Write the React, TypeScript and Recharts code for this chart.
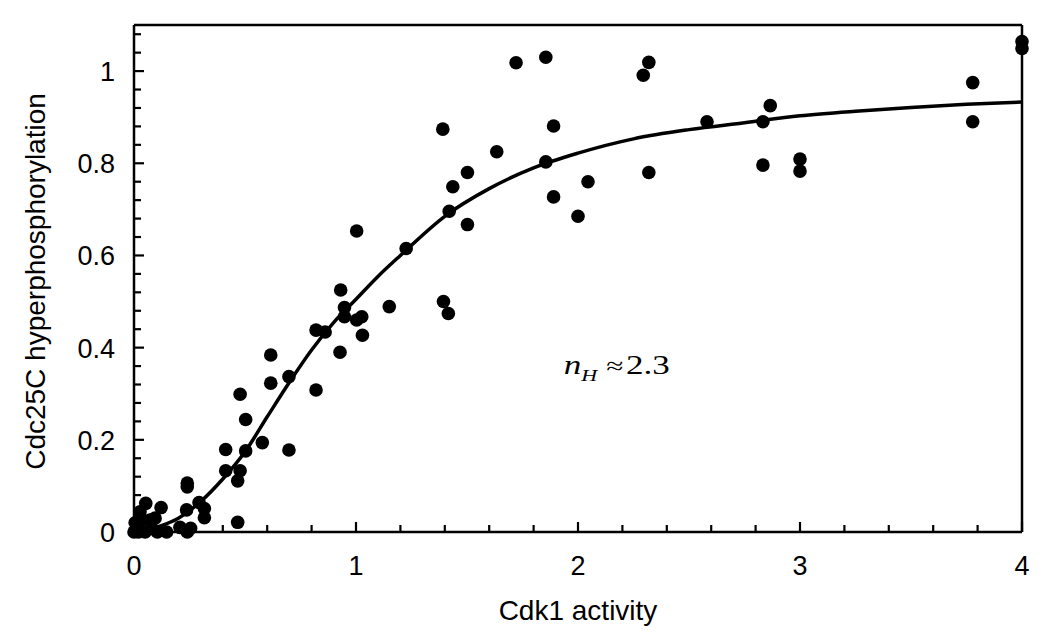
import { ComposedChart, Scatter, Line, XAxis, YAxis, ReferenceDot, ReferenceLine } from "recharts";

// measured points (Cdk1 activity vs Cdc25C hyperphosphorylation)
const activity = [
  0, 0.005, 0.012, 0.02, 0.027, 0.035, 0.05, 0.053, 0.072, 0.08, 0.095, 0.105, 0.122, 0.147,
  0.207, 0.237, 0.24, 0.24, 0.24, 0.255, 0.293, 0.317, 0.317,
  0.413, 0.413, 0.467, 0.467, 0.478, 0.478, 0.503, 0.503, 0.578, 0.616, 0.616, 0.698, 0.698,
  0.82, 0.82, 0.861, 0.928, 0.931, 0.948, 0.948, 1.003, 1.003, 1.026, 1.029, 1.15, 1.226,
  1.391, 1.394, 1.416, 1.42, 1.436, 1.502, 1.502, 1.634, 1.721, 1.855, 1.855, 1.89, 1.89,
  2.0, 2.045, 2.294, 2.319, 2.319, 2.581, 2.833, 2.833, 2.866, 3.0, 3.0, 3.778, 3.778, 4.0, 4.0,
];
const phospho = [
  0, 0.02, 0.008, 0, 0.044, 0.026, 0, 0.062, 0.026, 0.008, 0.03, 0, 0.053, 0,
  0.01, 0.048, 0, 0.106, 0.098, 0.008, 0.064, 0.051, 0.031,
  0.179, 0.133, 0.111, 0.021, 0.299, 0.133, 0.244, 0.176, 0.194, 0.384, 0.323, 0.337, 0.178,
  0.438, 0.308, 0.434, 0.39, 0.525, 0.487, 0.467, 0.46, 0.653, 0.467, 0.427, 0.489, 0.615,
  0.874, 0.5, 0.474, 0.696, 0.749, 0.78, 0.667, 0.825, 1.018, 1.03, 0.803, 0.881, 0.727,
  0.685, 0.76, 0.991, 1.019, 0.78, 0.89, 0.89, 0.796, 0.925, 0.809, 0.783, 0.975, 0.89, 1.064, 1.049,
];

// fitted Hill curve
const fitX = [0, 0.05, 0.1, 0.2, 0.3, 0.4, 0.5, 0.6, 0.7, 0.8, 0.9, 1.0, 1.1, 1.2, 1.4, 1.6, 1.8, 2.0, 2.25, 2.5, 2.75, 3.0, 3.25, 3.5, 3.75, 4.0];
const fitY = [0, 0.002, 0.01, 0.03, 0.066, 0.115, 0.174, 0.25, 0.325, 0.395, 0.455, 0.505, 0.555, 0.6, 0.685, 0.745, 0.79, 0.822, 0.853, 0.873, 0.888, 0.903, 0.913, 0.921, 0.928, 0.933];

const xTicks = [0, 0.2, 0.4, 0.6, 0.8, 1, 1.2, 1.4, 1.6, 1.8, 2, 2.2, 2.4, 2.6, 2.8, 3, 3.2, 3.4, 3.6, 3.8, 4];
const xMajor = [0, 1, 2, 3, 4];
const yTicks = [0, 0.04, 0.08, 0.12, 0.16, 0.2, 0.24, 0.28, 0.32, 0.36, 0.4, 0.44, 0.48, 0.52, 0.56, 0.6, 0.64, 0.68, 0.72, 0.76, 0.8, 0.84, 0.88, 0.92, 0.96, 1, 1.04, 1.08];
const yMajor = [0, 0.2, 0.4, 0.6, 0.8, 1];
const xDomain = [0, 4];
const yDomain = [0, 1.1];

const hillLabel = { x: 1.94, y: 0.34, value: "2.3" };

const points = activity.map((x, i) => ({ x, y: phospho[i] }));
const fit = fitX.map((x, i) => ({ x, y: fitY[i] }));

const SANS = '"Liberation Sans", Arial, Helvetica, sans-serif';
const SERIF = '"Liberation Serif", "Times New Roman", serif';

const isMajor = (v: number, majors: number[]) => majors.some((m) => Math.abs(m - v) < 1e-6);

const XTick = (props: any) => {
  const { x, y, payload } = props;
  const major = isMajor(payload.value, xMajor);
  return (
    <g>
      <line x1={x} x2={x} y1={y} y2={y - (major ? 10 : 7)} stroke="#000" strokeWidth={2.2} />
      {major && (
        <text x={x} y={y + 43} textAnchor="middle" fontSize={27} fontFamily={SANS} fill="#000">
          {payload.value}
        </text>
      )}
    </g>
  );
};

const YTick = (props: any) => {
  const { x, y, payload } = props;
  const major = isMajor(payload.value, yMajor);
  return (
    <g>
      <line x1={x} x2={x + (major ? 10 : 7)} y1={y} y2={y} stroke="#000" strokeWidth={2.2} />
      {major && (
        <text x={x - 19} y={y + 10} textAnchor="end" fontSize={27} fontFamily={SANS} fill="#000">
          {payload.value}
        </text>
      )}
    </g>
  );
};

const XTitle = (p: any) => {
  const vb = p.viewBox;
  return (
    <text x={vb.x + vb.width / 2} y={vb.y + 88} textAnchor="middle" fontSize={28} fontFamily={SANS} fill="#000">
      Cdk1 activity
    </text>
  );
};

const YTitle = (p: any) => {
  const vb = p.viewBox;
  const cy = vb.y + vb.height / 2 + 3;
  return (
    <text x={45} y={cy} transform={`rotate(-90, 45, ${cy})`} textAnchor="middle" fontSize={28} fontFamily={SANS} fill="#000">
      Cdc25C hyperphosphorylation
    </text>
  );
};

const HillText = (p: any) => {
  const vb = p.viewBox;
  return (
    <text transform={`translate(${vb.x}, ${vb.y}) scale(1.3, 1)`} fontSize={27} fontFamily={SERIF} fill="#000">
      <tspan fontStyle="italic">n</tspan>
      <tspan fontStyle="italic" fontSize={17} dy={7} dx={0}>H</tspan>
      <tspan dy={-7} dx={7} fontSize={24}>≈</tspan>
      <tspan dx={2}>{hillLabel.value}</tspan>
    </text>
  );
};

const Dot = (p: any) => <circle cx={p.cx} cy={p.cy} r={6.8} fill="#000" />;

export default function App() {
  return (
    <div style={{ position: "absolute", left: 0, top: 0, width: 1050, height: 638, background: "#fff" }}>
      <ComposedChart width={1050} height={638} margin={{ top: 25, right: 28, bottom: 0, left: 0 }}>
        <XAxis
          xAxisId="b"
          type="number"
          dataKey="x"
          domain={xDomain}
          ticks={xTicks}
          interval={0}
          tickSize={0}
          tickMargin={0}
          tick={<XTick />}
          tickLine={false}
          axisLine={{ stroke: "#000", strokeWidth: 2.5 }}
          height={106}
          label={XTitle}
        />
        <YAxis
          yAxisId="l"
          type="number"
          domain={yDomain}
          ticks={yTicks}
          interval={0}
          tickSize={0}
          tickMargin={0}
          tick={<YTick />}
          tickLine={false}
          axisLine={{ stroke: "#000", strokeWidth: 2.5 }}
          width={134}
          label={YTitle}
        />
        {/* top and right edges of the frame */}
        <ReferenceLine xAxisId="b" yAxisId="l" y={yDomain[1]} stroke="#000" strokeWidth={2.5} />
        <ReferenceLine xAxisId="b" yAxisId="l" x={xDomain[1]} stroke="#000" strokeWidth={2.5} />
        <Line
          xAxisId="b"
          yAxisId="l"
          data={fit}
          dataKey="y"
          type="monotone"
          stroke="#000"
          strokeWidth={3.5}
          dot={false}
          activeDot={false}
          isAnimationActive={false}
        />
        <Scatter xAxisId="b" yAxisId="l" data={points} dataKey="y" shape={<Dot />} isAnimationActive={false} />
        <ReferenceDot xAxisId="b" yAxisId="l" x={hillLabel.x} y={hillLabel.y} r={1} fill="none" stroke="none" label={HillText} />
      </ComposedChart>
    </div>
  );
}
